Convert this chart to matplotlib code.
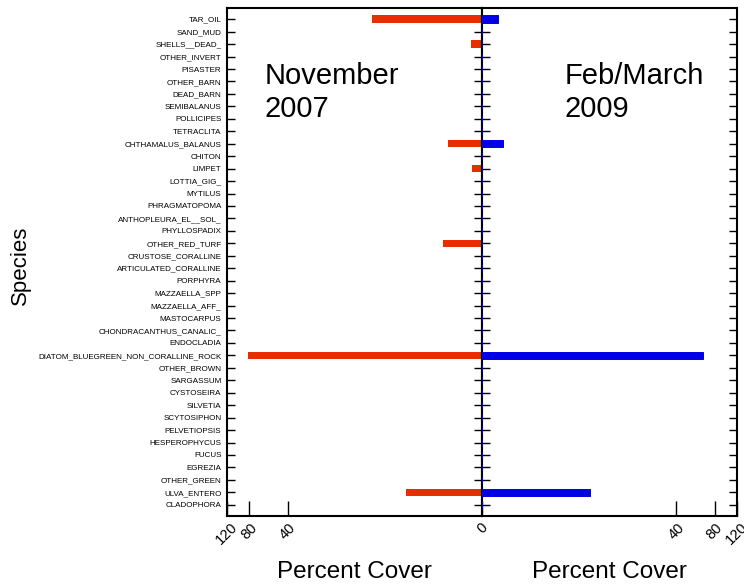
import numpy as np
import matplotlib
matplotlib.use("Agg")
import matplotlib.pyplot as plt

plt.rcParams['font.family'] = ['Liberation Sans', 'DejaVu Sans']

species = ["TAR_OIL", "SAND_MUD", "SHELLS__DEAD_", "OTHER_INVERT", "PISASTER",
           "OTHER_BARN", "DEAD_BARN", "SEMIBALANUS", "POLLICIPES", "TETRACLITA",
           "CHTHAMALUS_BALANUS", "CHITON", "LIMPET", "LOTTIA_GIG_", "MYTILUS",
           "PHRAGMATOPOMA", "ANTHOPLEURA_EL__SOL_", "PHYLLOSPADIX", "OTHER_RED_TURF",
           "CRUSTOSE_CORALLINE", "ARTICULATED_CORALLINE", "PORPHYRA", "MAZZAELLA_SPP",
           "MAZZAELLA_AFF_", "MASTOCARPUS", "CHONDRACANTHUS_CANALIC_", "ENDOCLADIA",
           "DIATOM_BLUEGREEN_NON_CORALLINE_ROCK", "OTHER_BROWN", "SARGASSUM",
           "CYSTOSEIRA", "SILVETIA", "SCYTOSIPHON", "PELVETIOPSIS", "HESPEROPHYCUS",
           "FUCUS", "EGREZIA", "OTHER_GREEN", "ULVA_ENTERO", "CLADOPHORA"]

nov2007 = [7.9, 0, 0.28, 0, 0, 0, 0, 0, 0, 0,
           1.1, 0, 0.25, 0, 0, 0, 0, 0, 1.3, 0,
           0, 0, 0, 0, 0, 0, 0, 81.6, 0, 0,
           0, 0, 0, 0, 0, 0, 0, 0, 3.75, 0]

feb2009 = [0.42, 0, 0, 0, 0, 0, 0, 0, 0, 0,
           0.58, 0, 0, 0, 0, 0, 0, 0, 0, 0,
           0, 0, 0, 0, 0, 0, 0, 64.5, 0, 0,
           0, 0, 0, 0, 0, 0, 0, 0, 7.6, 0]

left_ticks = [40, 80, 120]
right_ticks = [0, 40, 80, 120]

C = 1.3


def fwd(x):
    x = np.asarray(x, dtype=float)
    return np.log1p(np.maximum(x, 0) / C)


def inv(y):
    y = np.asarray(y, dtype=float)
    return C * np.expm1(np.maximum(y, 0))


RED = '#E62E00'
BLUE = '#0000E6'

fig = plt.figure(figsize=(7.44, 5.88), dpi=100)
W, H = 744, 588
axL = fig.add_axes([227 / W, (H - 516) / H, 255 / W, 508 / H])
axR = fig.add_axes([482 / W, (H - 516) / H, 255 / W, 508 / H], sharey=axL)

y = np.arange(len(species))

for ax in (axL, axR):
    ax.set_xscale('function', functions=(fwd, inv))
    for s in ax.spines.values():
        s.set_linewidth(1.5)
    ax.tick_params(axis='y', which='both', direction='in', length=6, width=1.0,
                   left=True, right=True)
    ax.tick_params(axis='x', which='both', direction='in', length=11, width=1.0,
                   top=False, bottom=True, labelsize=10.5, pad=3)
    ax.minorticks_off()

axL.barh(y, nov2007, height=0.6, color=RED, zorder=2)
axR.barh(y, feb2009, height=0.6, color=BLUE, edgecolor=BLUE, linewidth=0.7,
         zorder=3, clip_on=False)

axL.set_xlim(120, 0)
axR.set_xlim(0, 120)
axL.set_ylim(len(species) - 1 + 0.9, -0.9)

axL.set_yticks(y)
axL.set_yticklabels(species, fontsize=5.8)
axL.tick_params(axis='y', pad=4)
axR.tick_params(axis='y', labelleft=False)

axL.set_xticks(left_ticks)
axL.set_xticklabels([str(t) for t in left_ticks], rotation=45, ha='center', va='top')
axR.set_xticks(right_ticks)
axR.set_xticklabels([str(t) for t in right_ticks], rotation=45, ha='center', va='top')

axL.set_xlabel('Percent Cover', fontsize=17.5)
axR.set_xlabel('Percent Cover', fontsize=17.5)
axL.xaxis.set_label_coords(0.5, -0.088)
axR.xaxis.set_label_coords(0.5, -0.088)

axL.set_ylabel('Species', fontsize=16)
axL.yaxis.set_label_coords(-0.77, 0.494)

axL.text(0.149, 0.893, 'November\n2007', transform=axL.transAxes, fontsize=21,
         ha='left', va='top', linespacing=1.2)
axR.text(0.325, 0.893, 'Feb/March\n2009', transform=axR.transAxes, fontsize=21,
         ha='left', va='top', linespacing=1.2)

fig.savefig('out.png', dpi=100)
